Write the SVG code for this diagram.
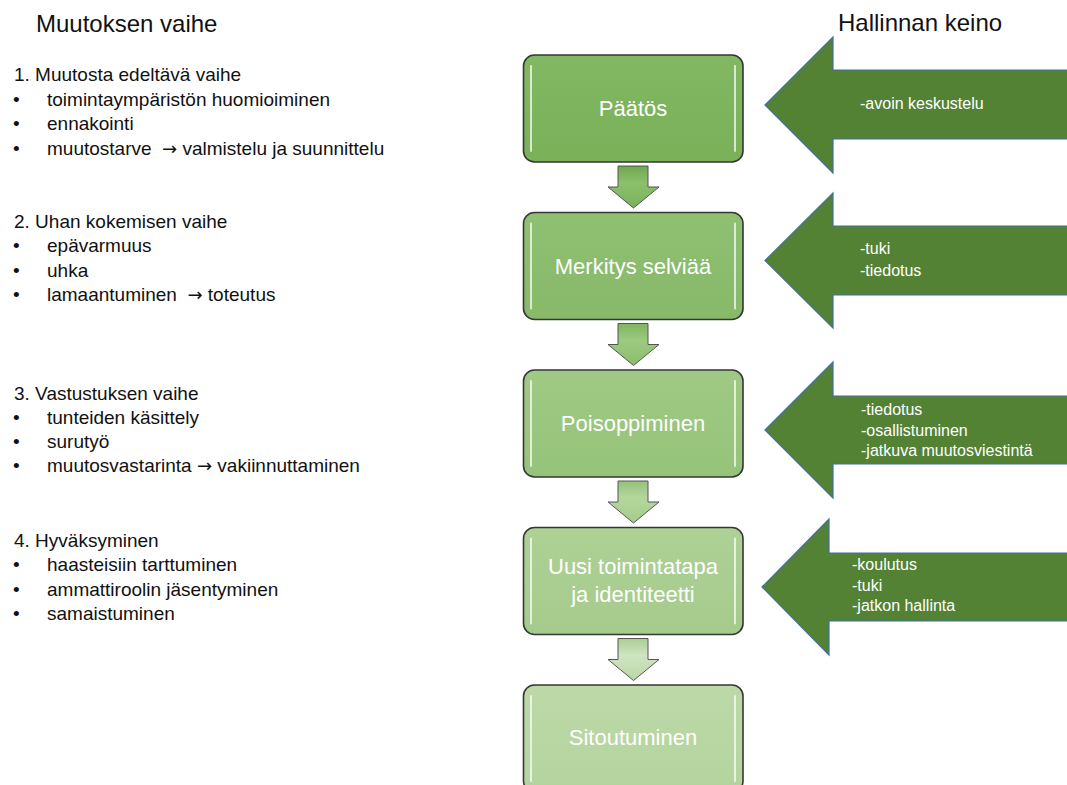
<svg xmlns="http://www.w3.org/2000/svg" width="1067" height="785" viewBox="0 0 1067 785">
<style>
text{font-family:"Liberation Sans",Arial,sans-serif}
.title{font-size:24px;fill:#111}
.lst{font-size:19px;fill:#111}
.ar{font-family:"DejaVu Sans",sans-serif;font-size:18px}
.box{stroke:#363636;stroke-width:1.6}
.hl{stroke:#ffffff;stroke-width:2;stroke-opacity:0.7;stroke-linecap:round}
.bt{font-size:22px;fill:#ffffff;text-anchor:middle}
.big{fill:#548235;stroke:#41719c;stroke-width:1.2}
.at{font-size:16px;fill:#ffffff}
.sa{stroke:#555;stroke-width:1;stroke-linejoin:round}
</style>
<defs>
<linearGradient id="g1" x1="0" y1="0" x2="0" y2="1"><stop offset="0" stop-color="#82b862"/><stop offset="1" stop-color="#79b058"/></linearGradient>
<linearGradient id="g2" x1="0" y1="0" x2="0" y2="1"><stop offset="0" stop-color="#90c072"/><stop offset="1" stop-color="#87b969"/></linearGradient>
<linearGradient id="g3" x1="0" y1="0" x2="0" y2="1"><stop offset="0" stop-color="#9fc984"/><stop offset="1" stop-color="#96c37a"/></linearGradient>
<linearGradient id="g4" x1="0" y1="0" x2="0" y2="1"><stop offset="0" stop-color="#aed196"/><stop offset="1" stop-color="#a5cb8c"/></linearGradient>
<linearGradient id="g5" x1="0" y1="0" x2="0" y2="1"><stop offset="0" stop-color="#bcd9a7"/><stop offset="1" stop-color="#b4d49e"/></linearGradient>
<linearGradient id="a1" x1="0" y1="0" x2="0" y2="1"><stop offset="0" stop-color="#6fa84e"/><stop offset="0.4" stop-color="#8cc06c"/><stop offset="1" stop-color="#7ab35a"/></linearGradient>
<linearGradient id="a2" x1="0" y1="0" x2="0" y2="1"><stop offset="0" stop-color="#7fb460"/><stop offset="0.4" stop-color="#9ccb80"/><stop offset="1" stop-color="#8bbd6d"/></linearGradient>
<linearGradient id="a3" x1="0" y1="0" x2="0" y2="1"><stop offset="0" stop-color="#94c178"/><stop offset="0.4" stop-color="#b4d79e"/><stop offset="1" stop-color="#a3cb8a"/></linearGradient>
<linearGradient id="a4" x1="0" y1="0" x2="0" y2="1"><stop offset="0" stop-color="#aacd93"/><stop offset="0.4" stop-color="#cfe4c1"/><stop offset="1" stop-color="#bad7a6"/></linearGradient>
</defs>
<rect x="0" y="0" width="1067" height="785" fill="#ffffff"/>

<g id="left-text">
<text class="title" x="36" y="32">Muutoksen vaihe</text>
<text class="lst" x="14" y="81">1. Muutosta edeltävä vaihe</text>
<text class="lst" x="13" y="106">•</text><text class="lst" x="47" y="106">toimintaympäristön huomioiminen</text>
<text class="lst" x="13" y="130">•</text><text class="lst" x="47" y="130">ennakointi</text>
<text class="lst" x="13" y="155">•</text><text class="lst" x="47" y="155" xml:space="preserve">muutostarve  <tspan class="ar">→</tspan> valmistelu ja suunnittelu</text>
<text class="lst" x="14" y="228">2. Uhan kokemisen vaihe</text>
<text class="lst" x="13" y="252">•</text><text class="lst" x="47" y="252">epävarmuus</text>
<text class="lst" x="13" y="277">•</text><text class="lst" x="47" y="277">uhka</text>
<text class="lst" x="13" y="301">•</text><text class="lst" x="47" y="301" xml:space="preserve">lamaantuminen  <tspan class="ar">→</tspan> toteutus</text>
<text class="lst" x="14" y="400">3. Vastustuksen vaihe</text>
<text class="lst" x="13" y="424">•</text><text class="lst" x="47" y="424">tunteiden käsittely</text>
<text class="lst" x="13" y="448">•</text><text class="lst" x="47" y="448">surutyö</text>
<text class="lst" x="13" y="472" >•</text><text class="lst" x="47" y="472" xml:space="preserve">muutosvastarinta <tspan class="ar">→</tspan> vakiinnuttaminen</text>
<text class="lst" x="14" y="547">4. Hyväksyminen</text>
<text class="lst" x="13" y="571">•</text><text class="lst" x="47" y="571">haasteisiin tarttuminen</text>
<text class="lst" x="13" y="596">•</text><text class="lst" x="47" y="596">ammattiroolin jäsentyminen</text>
<text class="lst" x="13" y="620">•</text><text class="lst" x="47" y="620">samaistuminen</text>
<text class="title" x="838" y="31">Hallinnan keino</text>
</g>

<g id="connectors">
<path class="sa" fill="url(#a1)" d="M618,166 H648 V187 H659 L633.5,208 L608,187 H618 Z"/>
<path class="sa" fill="url(#a2)" d="M618,323.5 H648 V344.5 H659 L633.5,365.5 L608,344.5 H618 Z"/>
<path class="sa" fill="url(#a3)" d="M618,481 H648 V502 H659 L633.5,523 L608,502 H618 Z"/>
<path class="sa" fill="url(#a4)" d="M618,638.5 H648 V659.5 H659 L633.5,680.5 L608,659.5 H618 Z"/>
</g>

<g id="box-paatos">
<rect class="box" x="523.5" y="55" width="219.5" height="107" rx="11" fill="url(#g1)"/>
<line class="hl" x1="531" y1="66" x2="531" y2="151"/><line class="hl" x1="735" y1="66" x2="735" y2="151"/>
<text class="bt" x="633" y="116">Päätös</text>
</g>
<g id="box-merkitys">
<rect class="box" x="523.5" y="212.5" width="219.5" height="107" rx="11" fill="url(#g2)"/>
<line class="hl" x1="531" y1="223.5" x2="531" y2="308.5"/><line class="hl" x1="735" y1="223.5" x2="735" y2="308.5"/>
<text class="bt" x="633" y="274">Merkitys selviää</text>
</g>
<g id="box-poisoppiminen">
<rect class="box" x="523.5" y="370" width="219.5" height="107" rx="11" fill="url(#g3)"/>
<line class="hl" x1="531" y1="381" x2="531" y2="466"/><line class="hl" x1="735" y1="381" x2="735" y2="466"/>
<text class="bt" x="633" y="431">Poisoppiminen</text>
</g>
<g id="box-uusi">
<rect class="box" x="523.5" y="527.5" width="219.5" height="107" rx="11" fill="url(#g4)"/>
<line class="hl" x1="531" y1="538.5" x2="531" y2="623.5"/><line class="hl" x1="735" y1="538.5" x2="735" y2="623.5"/>
<text class="bt" x="633" y="574">Uusi toimintatapa</text>
<text class="bt" x="633" y="602">ja identiteetti</text>
</g>
<g id="box-sitoutuminen">
<rect class="box" x="523.5" y="685" width="219.5" height="107" rx="11" fill="url(#g5)"/>
<line class="hl" x1="531" y1="696" x2="531" y2="781"/><line class="hl" x1="735" y1="696" x2="735" y2="781"/>
<text class="bt" x="633" y="745">Sitoutuminen</text>
</g>

<g id="arrow-1">
<path class="big" d="M765,105 L833,37 V70 H1070 V139 H833 V173 Z"/>
<text class="at" x="860" y="109">-avoin keskustelu</text>
</g>
<g id="arrow-2">
<path class="big" d="M765,260.5 L833,193 V226 H1070 V295 H833 V328 Z"/>
<text class="at" x="860" y="254">-tuki</text>
<text class="at" x="860" y="276">-tiedotus</text>
</g>
<g id="arrow-3">
<path class="big" d="M765,430 L833,362 V396 H1070 V464 H833 V498 Z"/>
<text class="at" x="861" y="415">-tiedotus</text>
<text class="at" x="861" y="435.5">-osallistuminen</text>
<text class="at" x="861" y="456">-jatkuva muutosviestintä</text>
</g>
<g id="arrow-4">
<path class="big" d="M762,587 L829,519 V553 H1070 V621 H829 V655 Z"/>
<text class="at" x="852" y="570">-koulutus</text>
<text class="at" x="852" y="590.5">-tuki</text>
<text class="at" x="852" y="611">-jatkon hallinta</text>
</g>
</svg>
